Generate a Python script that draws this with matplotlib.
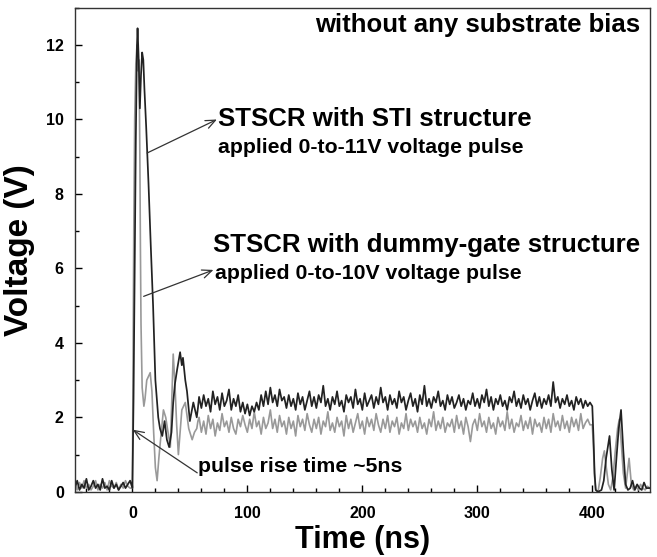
import numpy as np
import matplotlib
matplotlib.use('Agg')
import matplotlib.pyplot as plt
from matplotlib.ticker import MultipleLocator

plt.rcParams['font.family'] = ['Liberation Sans', 'DejaVu Sans']
plt.rcParams['font.weight'] = 'bold'

# pre-trigger baseline, sampled every 2 ns
t_pre = np.arange(-50, 0, 2)
black_pre = [0.1, 0.3, 0.05, 0.2, 0.1, 0.35, 0.05, 0.15, 0.3, 0.1, 0.2, 0.05, 0.35,
             0.1, 0.15, 0.05, 0.3, 0.1, 0.2, 0.05, 0.15, 0.25, 0.1, 0.2, 0.3]
gray_pre = [0.2, 0.05, 0.25, 0.1, 0.3, 0.1, 0.2, 0.05, 0.15, 0.3, 0.05, 0.2, 0.1,
            0.25, 0.05, 0.3, 0.15, 0.1, 0.25, 0.05, 0.2, 0.1, 0.3, 0.15, 0.1]

# transient after the pulse edge
black_pulse_t = [0, 1, 2, 3, 4, 4.5, 5.5, 6.5, 7.5, 8.5, 9.5, 10.5, 12, 14, 16, 18, 20,
                 22.5, 24, 26, 28, 30, 32, 34, 35.5, 37, 39, 41.5, 43, 44, 46, 47.5,
                 50, 53, 56, 57]
black_pulse_v = [0.1, 2.5, 6.0, 9.5, 12.0, 12.45, 11.6, 10.3, 11.2, 11.8, 11.6, 10.8,
                 9.8, 8.3, 6.6, 5.0, 3.0, 2.0, 1.7, 1.5, 1.9, 1.4, 1.2, 1.6, 2.4, 2.9,
                 3.3, 3.75, 3.4, 3.6, 3.0, 2.7, 1.9, 2.4, 2.0, 2.25]
gray_pulse_t = [0, 0.5, 1.2, 2, 3, 4, 5, 5.8, 6.5, 7, 7.5, 8.5, 10, 11, 12.5, 14, 15.5,
                17, 18.5, 20, 21.5, 23, 24.5, 27, 29, 31, 33, 35.5, 37, 38.5, 40, 41.5,
                43, 46, 49, 52, 54, 56, 57]
gray_pulse_v = [0.1, 3.0, 7.0, 10.0, 11.5, 12.0, 11.3, 11.6, 9.0, 6.5, 4.5, 2.8, 2.3,
                2.5, 3.0, 3.1, 3.2, 2.7, 1.6, 0.65, 0.3, 0.9, 1.4, 2.2, 2.0, 1.6, 1.2,
                3.7, 2.9, 1.8, 1.0, 1.6, 2.2, 2.4, 1.7, 1.4, 1.6, 1.7, 1.9]

# flat part of the pulse, sampled every 2 ns
t_flat = np.arange(58, 400, 2)
black_flat = [2.55, 2.25, 2.6, 2.3, 2.5, 2.15, 2.7, 2.35, 2.55, 2.2,
              2.65, 2.3, 2.45, 2.75, 2.2, 2.5, 2.3, 2.6, 2.15, 2.4,
              2.1, 2.35, 2.05, 2.3, 2.15, 2.4, 2.2, 2.6, 2.3, 2.7,
              2.35, 2.8, 2.4, 2.6, 2.3, 2.75, 2.45, 2.55, 2.25, 2.6,
              2.3, 2.5, 2.2, 2.65, 2.35, 2.55, 2.2, 2.45, 2.7, 2.3,
              2.55, 2.25, 2.6, 2.4, 2.85, 2.3, 2.5, 2.2, 2.55, 2.35,
              2.7, 2.3, 2.45, 2.15, 2.6, 2.4, 2.55, 2.25, 2.75, 2.35,
              2.5, 2.2, 2.65, 2.3, 2.45, 2.6, 2.25, 2.55, 2.35, 2.8,
              2.4, 2.55, 2.2, 2.6, 2.35, 2.5, 2.25, 2.7, 2.4, 2.55,
              2.2, 2.45, 2.65, 2.3, 2.5, 2.15, 2.6, 2.35, 2.85, 2.3,
              2.5, 2.25, 2.55, 2.4, 2.7, 2.3, 2.45, 2.2, 2.6, 2.35,
              2.55, 2.25, 2.4, 2.6, 2.3, 2.5, 2.2, 2.45, 2.35, 2.65,
              2.3, 2.5, 2.25, 2.6, 2.4, 2.75, 2.3, 2.55, 2.2, 2.5,
              2.35, 2.6, 2.3, 2.45, 2.2, 2.55, 2.4, 2.7, 2.3, 2.5,
              2.25, 2.6, 2.35, 2.5, 2.2, 2.45, 2.65, 2.3, 2.55, 2.25,
              2.5, 2.35, 2.6, 2.3, 2.95, 2.4, 2.55, 2.25, 2.5, 2.35,
              2.6, 2.3, 2.45, 2.2, 2.55, 2.35, 2.5, 2.25, 2.45, 2.3,
              2.4]
gray_flat = [2.0, 1.6, 1.9, 1.55, 2.05, 1.7, 1.95, 1.5, 1.85, 1.65,
             2.1, 1.75, 1.9, 1.6, 2.0, 1.7, 1.55, 1.95, 1.75, 2.05,
             1.8, 1.6, 1.95, 1.7, 2.15, 1.75, 1.9, 1.55, 2.0, 1.7,
             1.85, 2.2, 1.7, 1.95, 1.6, 2.05, 1.75, 1.9, 1.55, 2.0,
             1.7, 1.9, 1.5, 2.05, 1.75, 1.95, 1.65, 2.1, 1.8, 1.6,
             1.95, 1.7, 2.0, 1.55, 1.9, 1.75, 2.15, 1.65, 1.85, 1.6,
             2.0, 1.75, 1.9, 1.5, 2.05, 1.7, 1.95, 1.6, 1.85, 2.1,
             1.7, 1.9, 1.55, 2.0, 1.75, 1.95, 1.65, 2.1, 1.8, 1.6,
             1.95, 1.7, 2.05, 1.6, 1.9, 1.75, 2.0, 1.55, 1.85, 1.7,
             2.1, 1.65, 1.95, 1.75, 1.9, 1.6, 2.0, 1.7, 1.85, 1.55,
             1.95, 1.75, 2.15, 1.65, 1.9, 1.7, 2.0, 1.6, 1.85, 1.75,
             1.95, 1.6, 2.05, 1.7, 1.9, 1.55, 2.0, 1.75, 1.35, 1.8,
             1.95, 1.65, 2.1, 1.75, 1.9, 1.6, 2.0, 1.7, 1.85, 1.55,
             2.0, 1.75, 1.9, 1.65, 2.15, 1.7, 1.95, 1.6, 1.85, 1.75,
             2.05, 1.65, 1.9, 1.7, 2.0, 1.55, 1.95, 1.75, 1.85, 1.6,
             2.0, 1.7, 1.95, 1.6, 2.1, 1.75, 1.9, 1.65, 2.05, 1.7,
             1.9, 1.6, 2.0, 1.75, 1.95, 1.65, 2.1, 1.7, 1.85, 1.95,
             1.8]

# end of the pulse and ringing
black_tail_t = [400, 401, 402, 403, 405, 408, 410, 412, 415, 417, 419, 421, 423, 425,
                427, 429, 431, 433, 435, 437, 439, 441, 443, 445, 447, 450]
black_tail_v = [2.3, 1.5, 0.5, 0.05, 0.0, 0.05, 0.3, 0.9, 1.5, 0.6, 0.05, 0.9, 1.7,
                2.2, 1.1, 0.2, 0.05, 0.1, 0.3, 0.05, 0.2, 0.1, 0.05, 0.25, 0.1, 0.1]
gray_tail_t = [400, 401, 402, 403, 405, 407, 409, 410.5, 412, 414, 416, 418, 420, 422,
               423.5, 425, 427, 429, 430.5, 432, 434, 436, 438, 440, 442, 444, 446, 448, 450]
gray_tail_v = [1.8, 1.2, 0.4, 0.05, 0.0, 0.4, 0.9, 1.1, 0.7, 0.2, 0.05, 0.4, 1.1, 1.7,
               1.95, 1.4, 0.5, 0.1, 0.5, 0.9, 0.2, 0.05, 0.15, 0.05, 0.2, 0.1, 0.05, 0.15, 0.1]

t_black = np.concatenate([t_pre, black_pulse_t, t_flat, black_tail_t])
v_black = np.concatenate([black_pre, black_pulse_v, black_flat, black_tail_v])
t_gray = np.concatenate([t_pre, gray_pulse_t, t_flat, gray_tail_t])
v_gray = np.concatenate([gray_pre, gray_pulse_v, gray_flat, gray_tail_v])

fig = plt.figure(figsize=(6.57, 5.57), dpi=100)
ax = fig.add_axes([0.114, 0.117, 0.875, 0.869])

ax.plot(t_gray, v_gray, color='#999999', lw=1.2)
ax.plot(t_black, v_black, color='#222222', lw=1.25)

ax.set_xlim(-50, 450)
ax.set_ylim(0, 13)
ax.xaxis.set_major_locator(MultipleLocator(100))
ax.xaxis.set_minor_locator(MultipleLocator(20))
ax.yaxis.set_major_locator(MultipleLocator(2))
ax.yaxis.set_minor_locator(MultipleLocator(1))
ax.tick_params(which='both', direction='in', top=False, right=False, width=1)
ax.tick_params(which='major', length=5, labelsize=11.5)
ax.tick_params(axis='x', which='major', pad=10)
ax.tick_params(axis='y', which='major', pad=8)
ax.tick_params(which='minor', length=3)
for sp in ax.spines.values():
    sp.set_linewidth(1.0)
    sp.set_color('#333333')

ax.set_xlabel('Time (ns)', fontsize=22, fontweight='bold', labelpad=3)
ax.set_ylabel('Voltage (V)', fontsize=24, fontweight='bold', labelpad=8)

ax.text(0.983, 0.965, 'without any substrate bias', transform=ax.transAxes,
        ha='right', va='center', fontsize=18.5, fontweight='bold')
ax.text(74.6, 10.0, 'STSCR with STI structure', ha='left', va='center',
        fontsize=18.6, fontweight='bold')
ax.text(74.6, 9.25, 'applied 0-to-11V voltage pulse', ha='left', va='center',
        fontsize=15.3, fontweight='bold')
ax.text(70.2, 6.63, 'STSCR with dummy-gate structure', ha='left', va='center',
        fontsize=18.6, fontweight='bold')
ax.text(72.0, 5.87, 'applied 0-to-10V voltage pulse', ha='left', va='center',
        fontsize=15.3, fontweight='bold')
ax.text(57.3, 0.68, 'pulse rise time ~5ns', ha='left', va='center',
        fontsize=15.3, fontweight='bold')

arrow = dict(arrowstyle='->,head_length=0.7,head_width=0.3', lw=0.9, color='#333333',
             shrinkA=0, shrinkB=0)
ax.annotate('', xy=(73.5, 10.0), xytext=(12.8, 9.1), arrowprops=arrow)
ax.annotate('', xy=(70.5, 5.96), xytext=(9.8, 5.25), arrowprops=arrow)
ax.annotate('', xy=(0.3, 1.67), xytext=(56.4, 0.51), arrowprops=arrow)

fig.savefig('out.png', dpi=100)
